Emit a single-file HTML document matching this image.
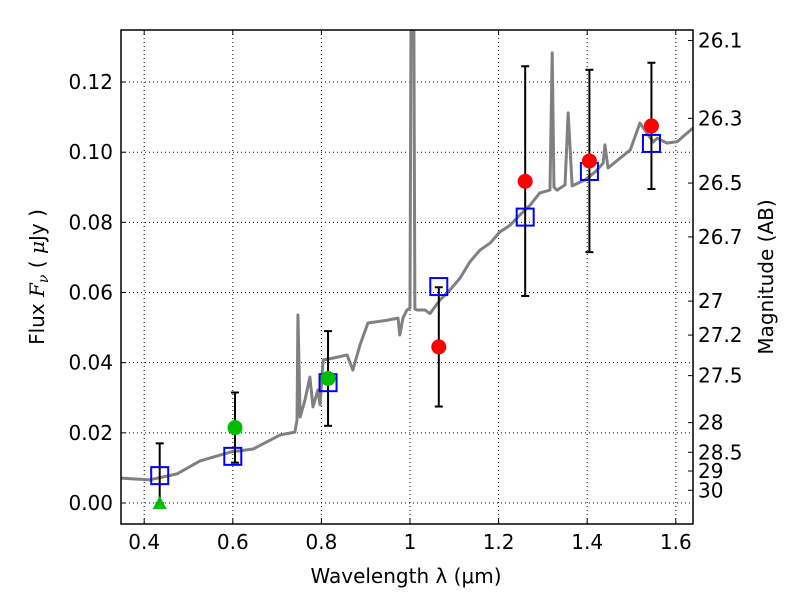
<!DOCTYPE html>
<html><head><meta charset="utf-8"><style>
body{margin:0;background:#fff}
svg{font-family:"DejaVu Sans","Liberation Sans",sans-serif}
</style></head><body>
<svg id="c" width="800" height="600" xmlns="http://www.w3.org/2000/svg"></svg>
<script>
const xTicks=[0.4,0.6,0.8,1.0,1.2,1.4,1.6];
const xTickLabels=["0.4","0.6","0.8","1","1.2","1.4","1.6"];
const yTicks=[0,0.02,0.04,0.06,0.08,0.10,0.12];
const yTickLabels=["0.00","0.02","0.04","0.06","0.08","0.10","0.12"];
const magTicks=[26.1,26.3,26.5,26.7,27,27.2,27.5,28,28.5,29,30];
const specWave=[0.348,0.413,0.474,0.526,0.594,0.646,0.707,0.740,0.745,0.747,0.752,0.763,0.774,0.781,0.792,0.797,0.804,0.826,0.858,0.871,0.887,0.905,0.948,0.973,0.977,0.984,0.993,1.000,1.004,1.007,1.011,1.016,1.034,1.045,1.068,1.090,1.113,1.135,1.158,1.181,1.203,1.226,1.248,1.271,1.293,1.316,1.321,1.325,1.332,1.350,1.357,1.366,1.395,1.418,1.436,1.440,1.447,1.474,1.497,1.519,1.549,1.558,1.580,1.603,1.639];
const specFlux=[0.0071,0.0066,0.0083,0.0120,0.0145,0.0154,0.0194,0.0202,0.0237,0.0536,0.0245,0.0294,0.0359,0.0274,0.0322,0.0280,0.0408,0.0413,0.0422,0.0379,0.0450,0.0513,0.0521,0.0527,0.0479,0.0527,0.0550,0.0556,0.2,0.2,0.0553,0.0550,0.0550,0.0540,0.0579,0.0607,0.0641,0.0687,0.0721,0.0741,0.0773,0.0792,0.0821,0.0849,0.0884,0.0892,0.1283,0.0900,0.0892,0.0907,0.1112,0.0904,0.0921,0.0944,0.0969,0.1021,0.0955,0.0983,0.1006,0.1083,0.1029,0.1040,0.1026,0.1030,0.1069];
const obsWave=[1.065,1.26,1.405,1.545];
const obsFlux=[0.0445,0.0917,0.0975,0.1075];
const greenWave=[0.605,0.815];
const greenFlux=[0.0215,0.0355];
const limitWave=[0.435];
const limitFlux=[0.0];
const modelWave=[0.435,0.6,0.815,1.065,1.26,1.405,1.545];
const modelFlux=[0.0078,0.0133,0.0343,0.0617,0.0815,0.0945,0.1025];
const errWave=[0.435,0.605,0.815,1.065,1.26,1.405,1.545];
const errLow=[0.0,0.0115,0.022,0.0275,0.059,0.0715,0.0895];
const errHigh=[0.017,0.0315,0.049,0.0615,0.1245,0.1235,0.1255];

const L=121,R=693,T=30,B=524;
const X=v=>410+(v-1)*443;
const Y=f=>503-f*3508;
const svg=document.getElementById('c');
const NS="http://www.w3.org/2000/svg";
function el(t,a,p){const e=document.createElementNS(NS,t);for(const k in a)e.setAttribute(k,a[k]);(p||svg).appendChild(e);return e;}
const defs=el('defs',{});const cp=el('clipPath',{id:'pc'},defs);el('rect',{x:L,y:T,width:R-L,height:B-T},cp);

xTicks.forEach((v,i)=>{const g=el('line',{x1:X(v),x2:X(v),y1:T,y2:B,stroke:'#000','stroke-width':1,'stroke-dasharray':'1,3'});


el('line',{x1:X(v),x2:X(v),y1:B,y2:B-5,stroke:'#000'});el('line',{x1:X(v),x2:X(v),y1:T,y2:T+5,stroke:'#000'});
const t=el('text',{x:X(v),y:B+25,'text-anchor':'middle','font-size':20});t.textContent=xTickLabels[i];

});
yTicks.forEach((v,i)=>{const g=el('line',{x1:L,x2:R,y1:Y(v),y2:Y(v),stroke:'#000','stroke-dasharray':'1,3'});


el('line',{x1:L,x2:L+5,y1:Y(v),y2:Y(v),stroke:'#000'});
const t=el('text',{x:L-8,y:Y(v)+7,'text-anchor':'end','font-size':20});t.textContent=yTickLabels[i];

});
magTicks.forEach(m=>{const f=Math.pow(10,(23.9-m)/2.5);const y=Y(f);
el('line',{x1:R,x2:R-5,y1:y,y2:y,stroke:'#000'});
const t=el('text',{x:R+5,y:y+7,'font-size':20});t.textContent=String(m);

});

const g=el('g',{'clip-path':'url(#pc)'});
const sp=el('polyline',{points:specWave.map((w,i)=>X(w)+','+Y(specFlux[i])).join(' '),fill:'none',stroke:'#808080','stroke-width':3,'stroke-linejoin':'round'},g);


errWave.forEach((w,i)=>{const x=X(w);
const e=el('line',{x1:x,x2:x,y1:Y(errLow[i]),y2:Y(errHigh[i]),stroke:'#000','stroke-width':2},g);


[errLow[i],errHigh[i]].forEach(v=>el('line',{x1:x-4,x2:x+4,y1:Y(v),y2:Y(v),stroke:'#000','stroke-width':2},g));});
modelWave.forEach((w,i)=>{const r=el('rect',{x:X(w)-8.5,y:Y(modelFlux[i])-8.5,width:17,height:17,fill:'none',stroke:'#0000ff','stroke-width':2},g);

});
obsWave.forEach((w,i)=>{const c=el('circle',{cx:X(w),cy:Y(obsFlux[i]),r:7.5,fill:'#ff0000'},g);

});
greenWave.forEach((w,i)=>{const c=el('circle',{cx:X(w),cy:Y(greenFlux[i]),r:7.5,fill:'#00bf00'},g);

});
limitWave.forEach((w,i)=>{const x=X(w),y=Y(limitFlux[i]);const p=el('polygon',{points:`${x},${y-7} ${x-7},${y+6} ${x+7},${y+6}`,fill:'#00bf00'},g);

});

const fr=el('rect',{x:L,y:T,width:R-L,height:B-T,fill:'none',stroke:'#000','stroke-width':1.5});


</script>
<svg width="800" height="600" style="position:absolute;left:0;top:0" xmlns="http://www.w3.org/2000/svg">
<text x="406" y="583" text-anchor="middle" font-size="20" font-family="DejaVu Sans, Liberation Sans, sans-serif">Wavelength  λ (μm)</text>
<text transform="translate(44,277) rotate(-90)" text-anchor="middle" font-size="20" font-family="DejaVu Sans, Liberation Sans, sans-serif">Flux  <tspan font-style="italic" font-family="DejaVu Serif, serif">F<tspan font-size="14" dy="4">ν</tspan></tspan><tspan dy="-4">  (  </tspan><tspan font-style="italic" font-family="DejaVu Serif, serif">μ</tspan>Jy )</text>
<text transform="translate(773,277) rotate(-90)" text-anchor="middle" font-size="20" font-family="DejaVu Sans, Liberation Sans, sans-serif">Magnitude (AB)</text>
</svg>
</body></html>
